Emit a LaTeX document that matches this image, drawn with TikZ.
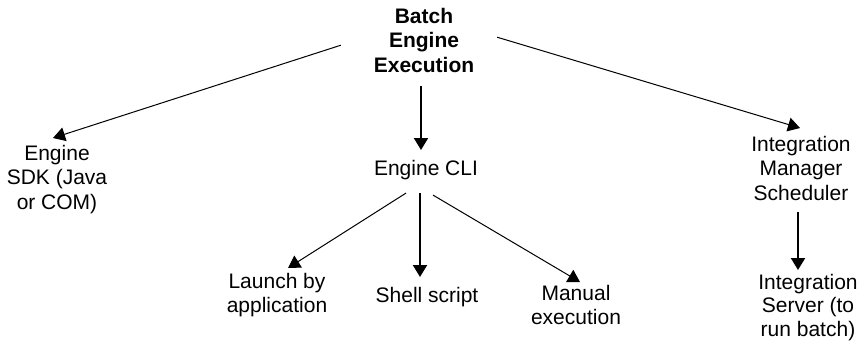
\documentclass[tikz,border=0pt]{standalone}
\usepackage{fontspec}
\setmainfont{Liberation Sans}
\usetikzlibrary{arrows.meta,calc}

\begin{document}
\begin{tikzpicture}[x=1pt,y=-1pt,
  lbl/.style={inner sep=0pt,outer sep=0pt,align=center,anchor=north,
    font=\fontsize{21}{24.5}\selectfont},
  thin arrow/.style={draw=black,line width=1pt,
    -{Triangle[length=12pt,width=14pt]}},
  thick arrow/.style={draw=black,line width=2pt,
    -{Triangle[length=12pt,width=14pt]}}]

\useasboundingbox[fill=white] (0,0) rectangle (862,341);

% nodes (placed by the top edge of their first line)
\node[lbl,font=\fontsize{21}{24.5}\selectfont\bfseries] (top) at (424,8) {Batch\\Engine\\Execution};
\node[lbl] (sdk) at (57,145) {Engine\\SDK (Java\\or COM)};
\node[lbl] (cli) at (426,160) {Engine CLI};
\node[lbl] (ims) at (801,136) {Integration\\Manager\\Scheduler};
\node[lbl,font=\fontsize{21}{23.5}\selectfont] (is) at (808,274) {Integration\\Server (to\\run batch)};
\node[lbl] (launch) at (277,273) {Launch by\\application};
\node[lbl] (shell)  at (427,287) {Shell script};
\node[lbl] (manual) at (576,285) {Manual\\execution};

% connectors from the top node
\draw[thin arrow]  ($(top.west)+(-33,5)$) -- ($(sdk.north)+(-4,-7)$);
\draw[thick arrow] ($(top.south)+(-3,14)$) -- ($(cli.north)+(-5,-10)$);
\draw[thin arrow]  ($(top.east)+(23,-3)$) -- ($(ims.north)+(-1,-8)$);

% connectors from the command line node
\draw[thin arrow]  ($(cli.south)+(-20,13.5)$) -- ($(launch.north)+(11,-5)$);
\draw[thick arrow] ($(cli.south)+(-6,13.5)$) -- ($(shell.north)+(-7,-10)$);
\draw[thin arrow]  ($(cli.south)+(7,15.5)$) -- ($(manual.north)+(4,-3)$);

% scheduler to server
\draw[thick arrow] ($(ims.south)+(-3,12)$) -- ($(is.north)+(-10,-4)$);
\end{tikzpicture}
\end{document}
